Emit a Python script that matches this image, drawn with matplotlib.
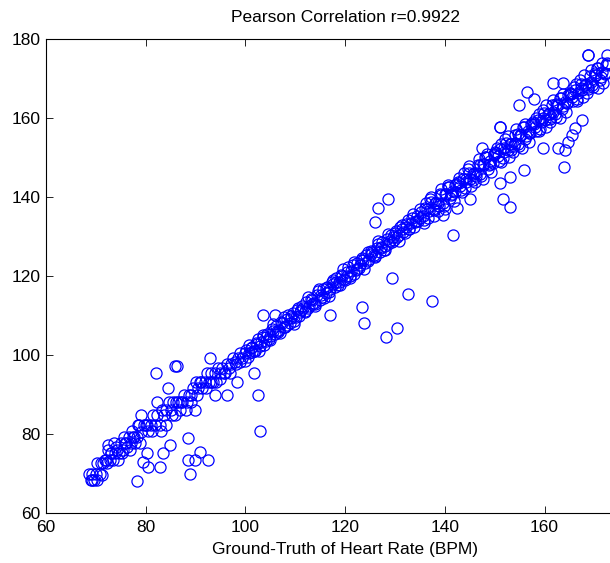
import matplotlib
matplotlib.use('Agg')
import matplotlib.pyplot as plt

# heart rate: ground truth vs estimate (read off the figure)
# lower part of the cloud, 68-80 BPM
gt_low = [68.6, 69.0, 69.3, 69.6, 70.0, 70.3, 70.8, 71.2, 71.5, 72.0, 72.3, 72.8, 73.1, 73.5,
          73.9, 74.3, 74.6, 75.0, 75.4, 75.8, 76.2, 76.6, 77.0, 77.4, 77.8, 78.3, 78.7, 79.1, 79.6,
          70.2, 71.0, 71.8, 72.4, 73.0, 73.6, 74.4, 75.2, 76.0, 76.8, 77.6, 78.4, 79.0, 72.4, 74.0,
          75.6, 77.2, 78.9, 80.2, 69.2]
est_low = [70.0, 68.4, 69.9, 68.4, 69.9, 68.4, 70.0, 69.6, 72.7, 73.4, 72.7, 73.4, 75.2, 73.4,
           75.2, 75.9, 75.2, 77.7, 75.9, 77.7, 76.6, 79.2, 77.7, 79.2, 77.7, 79.2, 82.3, 80.5, 82.3,
           72.7, 72.7, 73.4, 77.2, 75.2, 77.7, 73.4, 75.2, 77.7, 75.9, 79.2, 82.3, 84.8, 75.9, 76.6,
           79.2, 80.8, 77.7, 82.3, 68.4]

# 80-100 BPM
gt_mid = [80.0, 80.5, 81.0, 81.4, 81.9, 82.3, 82.8, 83.2, 83.7, 84.1, 84.6, 85.0, 85.5, 85.9,
          86.4, 86.8, 87.3, 87.7, 88.2, 88.6, 89.1, 89.5, 90.0, 90.4, 90.9, 91.3, 91.8, 92.2,
          92.7, 93.1, 93.6, 94.0, 94.5, 94.9, 95.4, 95.8, 96.3, 96.7, 97.2, 97.6, 98.1, 98.5,
          99.0, 99.4, 99.9,
          81.2, 83.0, 84.0, 85.2, 86.0, 87.0, 88.0, 89.0, 90.2, 91.0, 92.0, 93.0, 94.2, 95.0,
          96.0, 97.0, 98.0, 99.0]
est_mid = [82.3, 80.8, 82.3, 84.8, 82.3, 84.8, 82.3, 86.1, 84.8, 86.1, 88.2, 86.1, 88.2, 84.8,
           88.2, 86.1, 88.2, 90.0, 88.2, 90.0, 88.2, 91.6, 93.2, 91.6, 93.2, 91.6, 93.2, 95.4,
           93.2, 95.4, 93.2, 95.4, 96.7, 95.4, 96.7, 95.4, 97.7, 96.7, 97.7, 99.2, 97.7, 99.2,
           100.5, 99.2, 100.5,
           80.8, 80.8, 82.3, 84.8, 88.2, 88.2, 86.1, 90.0, 90.0, 93.2, 91.6, 93.2, 93.2, 93.9,
           95.4, 95.4, 98.2, 98.2]

# 100-135 BPM, tight band
gt_a = [100.2, 100.8, 101.4, 102.0, 102.6, 103.2, 103.8, 104.4, 105.0, 105.6, 106.2, 106.8,
        107.4, 108.0, 108.6, 109.2, 109.8, 110.4, 111.0, 111.6, 112.2, 112.8, 113.4, 114.0,
        114.6, 115.2, 115.8, 116.4, 117.0, 117.6, 118.2, 118.8, 119.4, 120.0, 120.6, 121.2,
        121.8, 122.4, 123.0, 123.6, 124.2, 124.8, 125.4, 126.0, 126.6, 127.2, 127.8, 128.4,
        129.0, 129.6, 130.2, 130.8, 131.4, 132.0, 132.6, 133.2, 133.8, 134.4, 135.0]
est_a = [101.3, 100.5, 102.0, 101.0, 104.1, 103.3, 102.5, 105.3, 104.8, 106.0, 107.4, 106.4,
         108.0, 107.0, 110.2, 109.3, 108.5, 111.3, 110.8, 112.0, 113.4, 112.4, 114.0, 113.0,
         116.2, 115.3, 114.5, 117.3, 116.8, 118.0, 119.4, 118.4, 120.0, 119.0, 122.2, 121.3,
         120.5, 123.3, 122.8, 124.0, 125.4, 124.4, 126.0, 125.0, 128.2, 127.3, 126.5, 129.3,
         128.8, 130.0, 131.4, 130.4, 132.0, 131.0, 134.2, 133.3, 132.5, 135.3, 134.8]
gt_b = [100.5, 101.1, 101.7, 102.3, 102.9, 103.5, 104.1, 104.7, 105.3, 105.9, 106.5, 107.1,
        107.7, 108.3, 108.9, 109.5, 110.1, 110.7, 111.3, 111.9, 112.5, 113.1, 113.7, 114.3,
        114.9, 115.5, 116.1, 116.7, 117.3, 117.9, 118.5, 119.1, 119.7, 120.3, 120.9, 121.5,
        122.1, 122.7, 123.3, 123.9, 124.5, 125.1, 125.7, 126.3, 126.9, 127.5, 128.1, 128.7,
        129.3, 129.9, 130.5, 131.1, 131.7, 132.3, 132.9, 133.5, 134.1, 134.7]
est_b = [99.6, 101.8, 100.9, 102.9, 102.2, 104.6, 103.6, 104.0, 106.5, 105.2, 105.8, 108.3,
         107.2, 109.1, 108.0, 110.7, 109.6, 110.0, 112.5, 111.2, 111.8, 114.3, 113.2, 115.1,
         114.0, 116.7, 115.6, 116.0, 118.5, 117.2, 117.8, 120.3, 119.2, 121.1, 120.0, 122.7,
         121.6, 122.0, 124.5, 123.2, 123.8, 126.3, 125.2, 127.1, 126.0, 128.7, 127.6, 128.0,
         130.5, 129.2, 129.8, 132.3, 131.2, 133.1, 132.0, 134.7, 133.6, 134.0]
gt_e = [100.0, 100.7, 101.4, 102.1, 102.8, 103.5, 104.2, 104.9, 105.6, 106.3, 107.0, 107.7,
        108.4, 109.1, 109.8, 110.5, 111.2, 111.9, 112.6, 113.3, 114.0, 114.7, 115.4, 116.1,
        116.8, 117.5, 118.2, 118.9, 119.6, 120.3, 121.0, 121.7, 122.4, 123.1, 123.8, 124.5,
        125.2, 125.9, 126.6, 127.3, 128.0, 128.7, 129.4, 130.1, 130.8, 131.5, 132.2, 132.9,
        133.6, 134.3]
est_e = [98.5, 102.6, 100.7, 103.0, 100.9, 105.0, 104.5, 103.8, 107.8, 106.0, 105.5, 109.6,
         107.7, 110.0, 107.9, 112.0, 111.5, 110.8, 114.8, 113.0, 112.5, 116.6, 114.7, 117.0,
         114.9, 119.0, 118.5, 117.8, 121.8, 120.0, 119.5, 123.6, 121.7, 124.0, 121.9, 126.0,
         125.5, 124.8, 128.8, 127.0, 126.5, 130.6, 128.7, 131.0, 128.9, 133.0, 132.5, 131.8,
         135.8, 134.0]

# 135-173 BPM, wider band
gt_c = [135.3, 135.8, 136.3, 136.8, 137.3, 137.8, 138.3, 138.8, 139.3, 139.8, 140.3, 140.8,
        141.3, 141.8, 142.3, 142.8, 143.3, 143.8, 144.3, 144.8, 145.3, 145.8, 146.3, 146.8,
        147.3, 147.8, 148.3, 148.8, 149.3, 149.8, 150.3, 150.8, 151.3, 151.8, 152.3, 152.8,
        153.3, 153.8, 154.3, 154.8, 155.3, 155.8, 156.3, 156.8, 157.3, 157.8, 158.3, 158.8,
        159.3, 159.8, 160.3, 160.8, 161.3, 161.8, 162.3, 162.8, 163.3, 163.8, 164.3, 164.8,
        165.3, 165.8, 166.3, 166.8, 167.3, 167.8, 168.3, 168.8, 169.3, 169.8, 170.3, 170.8,
        171.3, 171.8, 172.3, 172.8]
est_c = [136.1, 134.2, 138.5, 136.4, 138.7, 135.2, 138.5, 137.8, 142.1, 137.8, 140.8, 142.6,
         140.5, 138.9, 143.4, 143.6, 141.7, 146.0, 143.9, 146.2, 142.7, 146.0, 145.3, 149.6,
         145.3, 148.3, 150.1, 148.0, 146.4, 150.9, 151.1, 149.2, 153.5, 151.4, 153.7, 150.2,
         153.5, 152.8, 157.1, 152.8, 155.8, 157.6, 155.5, 153.9, 158.4, 158.6, 156.7, 161.0,
         158.9, 161.2, 157.7, 161.0, 160.3, 164.6, 160.3, 163.3, 165.1, 163.0, 161.4, 165.9,
         166.1, 164.2, 168.5, 166.4, 168.7, 165.2, 168.5, 167.8, 172.1, 167.8, 170.8, 172.6,
         170.5, 168.9, 173.4, 173.6]
gt_d = [135.6, 136.1, 136.6, 137.1, 137.6, 138.1, 138.6, 139.1, 139.6, 140.1, 140.6, 141.1,
        141.6, 142.1, 142.6, 143.1, 143.6, 144.1, 144.6, 145.1, 145.6, 146.1, 146.6, 147.1,
        147.6, 148.1, 148.6, 149.1, 149.6, 150.1, 150.6, 151.1, 151.6, 152.1, 152.6, 153.1,
        153.6, 154.1, 154.6, 155.1, 155.6, 156.1, 156.6, 157.1, 157.6, 158.1, 158.6, 159.1,
        159.6, 160.1, 160.6, 161.1, 161.6, 162.1, 162.6, 163.1, 163.6, 164.1, 164.6, 165.1,
        165.6, 166.1, 166.6, 167.1, 167.6, 168.1, 168.6, 169.1, 169.6, 170.1, 170.6, 171.1,
        171.6, 172.1, 172.6]
est_d = [135.3, 137.1, 134.8, 139.6, 137.0, 138.4, 136.4, 140.7, 138.4, 140.8, 142.6, 139.7,
         141.6, 141.2, 143.9, 142.8, 144.6, 142.3, 147.1, 144.5, 145.9, 143.9, 148.2, 145.9,
         148.3, 150.1, 147.2, 149.1, 148.7, 151.4, 150.3, 152.1, 149.8, 154.6, 152.0, 153.4,
         151.4, 155.7, 153.4, 155.8, 157.6, 154.7, 156.6, 156.2, 158.9, 157.8, 159.6, 157.3,
         162.1, 159.5, 160.9, 158.9, 163.2, 160.9, 163.3, 165.1, 162.2, 164.1, 163.7, 166.4,
         165.3, 167.1, 164.8, 169.6, 167.0, 168.4, 166.4, 170.7, 168.4, 170.8, 172.6, 169.7,
         171.6, 171.2, 173.9]
gt_f = [135.1, 135.8, 136.5, 137.2, 137.9, 138.6, 139.3, 140.0, 140.7, 141.4, 142.1, 142.8,
        143.5, 144.2, 144.9, 145.6, 146.3, 147.0, 147.7, 148.4, 149.1, 149.8, 150.5, 151.2,
        151.9, 152.6, 153.3, 154.0, 154.7, 155.4, 156.1, 156.8, 157.5, 158.2, 158.9, 159.6,
        160.3, 161.0, 161.7, 162.4, 163.1, 163.8, 164.5, 165.2, 165.9, 166.6, 167.3, 168.0,
        168.7, 169.4, 170.1, 170.8, 171.5, 172.2]
est_f = [137.0, 133.5, 136.9, 140.1, 136.6, 138.4, 140.5, 136.9, 143.1, 140.7, 143.0, 144.7,
         141.2, 144.6, 147.8, 144.3, 146.1, 148.2, 144.6, 150.8, 148.4, 150.7, 152.4, 148.9,
         152.3, 155.5, 152.0, 153.8, 155.9, 152.3, 158.5, 156.1, 158.4, 160.1, 156.6, 160.0,
         163.2, 159.7, 161.5, 163.6, 160.0, 166.2, 163.8, 166.1, 167.8, 164.3, 167.7, 170.9,
         167.4, 169.2, 171.3, 167.7, 173.9, 171.5]

# points off the band
gt_out = [78.2, 80.2, 80.5, 82.9, 83.5, 84.9, 79.5, 88.5, 90.9, 88.5, 89.9, 92.5, 88.9, 82.0,
          85.9, 86.3, 84.5, 82.2, 89.9, 93.9, 96.3, 101.7, 102.5, 102.9, 98.3, 92.9,
          103.5, 105.9, 117.0, 123.3, 123.7, 128.2, 130.4, 129.4, 126.6, 126.0, 128.6, 132.6,
          137.4, 141.6, 153.1, 151.7, 151.1, 153.1, 155.9, 163.9, 151.1, 151.1, 156.5, 157.9,
          161.7, 163.7, 154.9, 167.5, 166.1, 165.5, 164.7, 164.1, 162.7, 159.7, 147.5, 168.7,
          168.7, 172.5, 145.0, 142.4, 139.7]
est_out = [68.2, 75.2, 71.7, 71.7, 75.2, 77.2, 72.9, 79.0, 75.5, 73.4, 73.4, 73.4, 69.9, 95.4,
           97.2, 97.2, 91.6, 88.2, 86.1, 89.9, 89.9, 95.4, 89.9, 80.8, 93.2, 99.2,
           110.1, 110.1, 110.1, 112.1, 108.0, 104.6, 106.8, 119.5, 137.2, 133.7, 139.5, 115.4,
           113.7, 130.4, 137.5, 139.4, 143.5, 145.1, 146.8, 147.6, 157.7, 157.7, 166.7, 164.7,
           168.9, 168.9, 163.3, 159.5, 157.5, 155.7, 153.9, 151.9, 152.4, 152.4, 152.4, 176.0,
           176.0, 176.0, 139.4, 137.2, 135.4]

gt = gt_low + gt_mid + gt_a + gt_b + gt_e + gt_c + gt_d + gt_f + gt_out
est = est_low + est_mid + est_a + est_b + est_e + est_c + est_d + est_f + est_out

plt.rcParams['font.family'] = ['Liberation Sans', 'DejaVu Sans']

fig = plt.figure(figsize=(6.10, 5.63), dpi=100)
# axes run past the right edge, like the cropped original
ax = fig.add_axes([0.0754, 0.0888, 0.9807, 0.8419])
ax.plot(gt, est, linestyle='none', marker='o', markersize=8,
        markerfacecolor='none', markeredgecolor='#0000ff', markeredgewidth=0.9)

ax.set_xlim(60, 180)
ax.set_ylim(60, 180)
ax.set_xticks([60, 80, 100, 120, 140, 160])
ax.set_yticks([60, 80, 100, 120, 140, 160, 180])
ax.tick_params(direction='in', length=5, width=0.6, top=True, right=True,
               labelsize=12.5)
ax.tick_params(axis='x', pad=5)
ax.tick_params(axis='y', pad=4)
for s in ax.spines.values():
    s.set_linewidth(0.8)

ax.set_title('Pearson Correlation r=0.9922', fontsize=12.5, pad=12)
ax.set_xlabel('Ground-Truth of Heart Rate (BPM)', fontsize=12.5, labelpad=5)

fig.savefig('out.png', dpi=100)
